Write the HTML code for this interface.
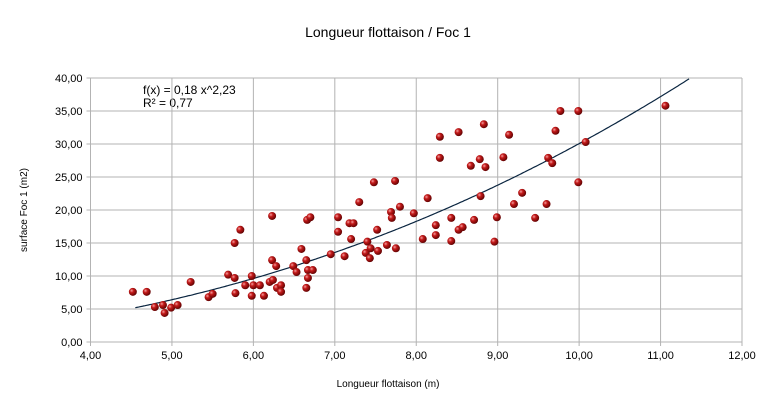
<!DOCTYPE html>
<html><head><meta charset="utf-8"><style>
body{margin:0;background:#fff;font-family:"Liberation Sans",sans-serif}
</style></head><body>
<svg width="776" height="401" xmlns="http://www.w3.org/2000/svg" id="c">
<defs><radialGradient id="g" cx="0.35" cy="0.35" r="0.7"><stop offset="0" stop-color="#f4a0a0"/><stop offset="0.35" stop-color="#c41a1a"/><stop offset="1" stop-color="#5a0000"/></radialGradient></defs>
<text x="388" y="37" text-anchor="middle" font-size="14">Longueur flottaison / Foc 1</text>
<text x="388" y="387" text-anchor="middle" font-size="10">Longueur flottaison (m)</text>
<text transform="translate(27,210) rotate(-90)" text-anchor="middle" font-size="10">surface Foc 1 (m2)</text>
<text x="143" y="94" font-size="12">f(x) = 0,18 x^2,23</text>
<text x="143" y="107" font-size="12">R² = 0,77</text>
<g id="grid"></g><g id="fit"></g><g id="pts"></g>
</svg>
<script>
const xTicks=[4,5,6,7,8,9,10,11,12];
const yTicks=[0,5,10,15,20,25,30,35,40];
const xVals=[4.52,4.69,4.79,4.89,4.91,4.99,5.07,5.23,5.45,5.5,5.69,5.77,5.77,5.84,5.78,5.9,5.98,5.98,6.0,6.08,6.13,6.23,6.2,6.23,6.28,6.24,6.29,6.34,6.34,6.49,6.53,6.59,6.65,6.66,6.7,6.67,6.65,6.67,6.73,6.95,7.04,7.04,7.12,7.18,7.23,7.2,7.3,7.38,7.4,7.44,7.43,7.48,7.52,7.53,7.64,7.69,7.7,7.74,7.75,7.8,7.97,8.08,8.14,8.24,8.24,8.29,8.29,8.43,8.43,8.52,8.52,8.57,8.67,8.71,8.78,8.79,8.83,8.85,8.96,8.99,9.07,9.14,9.2,9.3,9.46,9.6,9.62,9.67,9.71,9.77,9.99,9.99,10.08,11.06];
const yVals=[7.6,7.6,5.3,5.6,4.4,5.2,5.6,9.1,6.8,7.3,10.2,15.0,9.7,17.0,7.4,8.6,10.0,7.0,8.6,8.6,7.0,19.1,9.1,12.4,11.5,9.4,8.2,8.6,7.6,11.5,10.6,14.1,12.4,18.5,18.9,10.9,8.2,9.7,10.9,13.3,18.9,16.7,13.0,18.0,18.0,15.6,21.2,13.5,15.2,14.2,12.7,24.2,17.0,13.8,14.7,19.7,18.8,24.4,14.2,20.5,19.5,15.6,21.8,17.7,16.2,31.1,27.9,15.3,18.8,31.8,17.0,17.4,26.7,18.5,27.7,22.1,33.0,26.5,15.2,18.9,28.0,31.4,20.9,22.6,18.8,20.9,27.9,27.1,32.0,35.0,35.0,24.2,30.3,35.8];
const fitA=0.177, fitB=2.23, fitX0=4.55;
const L=90.5,R=742,T=78,B=342;
const sx=v=>L+(v-4)/8*(R-L), sy=v=>B-v/40*(B-T);
const NS='http://www.w3.org/2000/svg';
function mk(t,a,p){const e=document.createElementNS(NS,t);for(const k in a)e.setAttribute(k,a[k]);p.appendChild(e);return e;}
const grid=document.getElementById('grid');
xTicks.forEach(v=>{const l=mk('line',{x1:sx(v),x2:sx(v),y1:T,y2:B+4,stroke:'#b3b3b3','stroke-width':1},grid);


const t=mk('text',{x:sx(v),y:B+17,'text-anchor':'middle','font-size':11},grid);t.textContent=v.toFixed(2).replace('.',',');

});
yTicks.forEach(v=>{const l=mk('line',{x1:L-4,x2:R,y1:sy(v),y2:sy(v),stroke:'#b3b3b3','stroke-width':1},grid);


const t=mk('text',{x:L-8,y:sy(v)+4,'text-anchor':'end','font-size':11},grid);t.textContent=v.toFixed(2).replace('.',',');

});
let d='';for(let x=fitX0;x<=12;x+=0.02){const y=fitA*Math.pow(x,fitB);if(y>40)break;d+=(d?'L':'M')+sx(x).toFixed(1)+','+sy(y).toFixed(1);}
const p=mk('path',{d:d,fill:'none',stroke:'#0a2540','stroke-width':1.2},document.getElementById('fit'));


const pts=document.getElementById('pts');
xVals.forEach((x,i)=>{const c=mk('circle',{cx:sx(x),cy:sy(yVals[i]),r:4,fill:'url(#g)'},pts);

});
</script>
</body></html>
